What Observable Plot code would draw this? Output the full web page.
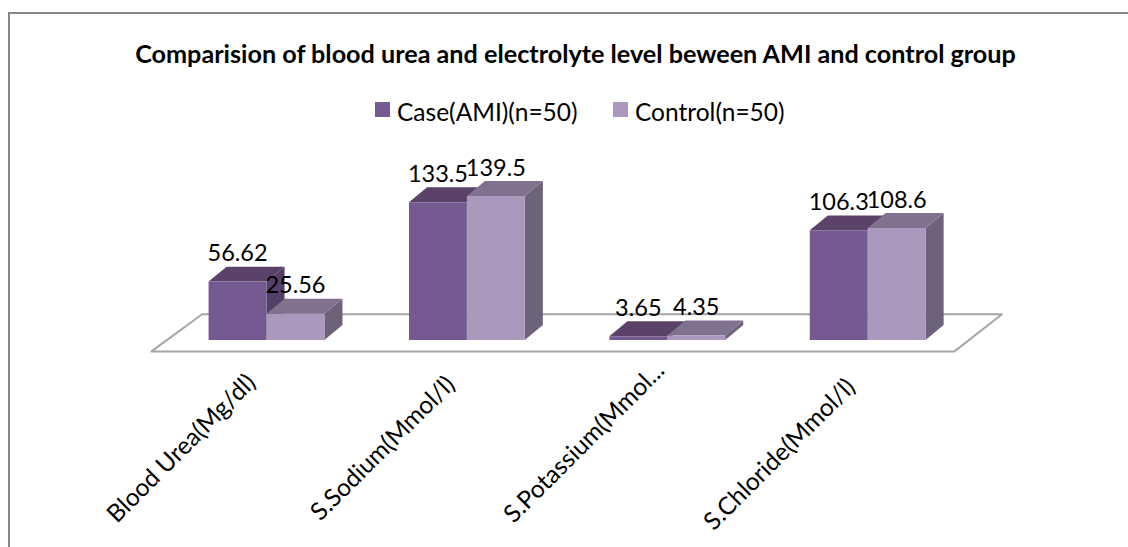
<!DOCTYPE html>
<html>
<head>
<meta charset="utf-8">
<script src="https://cdn.jsdelivr.net/npm/d3@7"></script>
<script src="https://cdn.jsdelivr.net/npm/@observablehq/plot@0.6"></script>
<style>
html,body{margin:0;padding:0;background:#fff;}
#page{position:relative;width:1128px;height:547px;overflow:hidden;font-family:Lato,sans-serif;color:#000;}
#box{position:absolute;left:8px;top:12px;width:1200px;height:600px;border:2px solid #868686;box-sizing:border-box;}
#title{position:absolute;left:0;width:1151px;top:38px;text-align:center;font-weight:700;font-size:25.2px;line-height:30px;white-space:nowrap;}
#legend{position:absolute;left:0;top:96px;width:1128px;height:32px;font-size:24.5px;line-height:32px;}
#legend span{position:absolute;white-space:nowrap;}
#legend i{position:absolute;width:15px;height:15px;top:6px;}
#chart{position:absolute;left:0;top:0;}
svg{background:transparent;}
</style>
</head>
<body>
<div id="page">
<div id="box"></div>
<div id="chart"></div>
<div id="title"></div>
<div id="legend"></div>
</div>
<script>
const chartTitle = "Comparision of blood urea and electrolyte level beween AMI and control group";
const categories = ["Blood Urea(Mg/dl)", "S.Sodium(Mmol/l)", "S.Potassium(Mmol...", "S.Chloride(Mmol/l)"];
const seriesNames = ["Case(AMI)(n=50)", "Control(n=50)"];
const caseValues = [56.62, 133.5, 3.65, 106.3];
const controlValues = [25.56, 139.5, 4.35, 108.6];
const valueLabels = [["56.62","133.5","3.65","106.3"],["25.56","139.5","4.35","108.6"]];
const frontColors = ["#755a91", "#aa99bd"];
const topColors = ["#5a4269", "#80728e"];
const sideColors = ["#524068", "#6c637a"];
const tickShift = [[-85, -1], [-84, -1], [-83, -7], [-88, 5]];

const barW = 0.289, depthX = 0.09, depthY = 14.5;
const series = [caseValues, controlValues];

document.getElementById("title").textContent = chartTitle;
const legend = document.getElementById("legend");
[[375, 397], [613, 635]].forEach(([sw, tx], s) => {
  const i = document.createElement("i");
  i.style.left = sw + "px"; i.style.background = frontColors[s];
  const t = document.createElement("span");
  t.style.left = tx + "px"; t.textContent = seriesNames[s];
  legend.append(i, t);
});

const faces = [], labels = [];
categories.forEach((c, k) => {
  series.forEach((vals, s) => {
    const x0 = k + (s - 1) * barW, x1 = x0 + barW, v = vals[k];
    const poly = (id, color, pts) => pts.forEach(([x, y]) => faces.push({id, color, x, y}));
    poly(`${k}-${s}-side`, sideColors[s], [[x1, 0], [x1 + depthX, depthY], [x1 + depthX, v + depthY], [x1, v]]);
    poly(`${k}-${s}-top`, topColors[s], [[x0, v], [x0 + depthX, v + depthY], [x1 + depthX, v + depthY], [x1, v]]);
    poly(`${k}-${s}-front`, frontColors[s], [[x0, 0], [x1, 0], [x1, v], [x0, v]]);
    labels.push({x: (x0 + x1) / 2, y: v, text: valueLabels[s][k]});
  });
});

const floor = [[-0.574, -11], [3.433, -11], [3.67, 25], [-0.321, 25], [-0.574, -11]].map(([x, y]) => ({x, y}));

const plot = Plot.plot({
  width: 1128, height: 547,
  marginTop: 0, marginBottom: 0, marginLeft: 0, marginRight: 0,
  x: {axis: null, domain: [-266 / 200.4, 862 / 200.4], range: [0, 1128]},
  y: {axis: null, domain: [-201, 329], range: [547, 0]},
  style: {fontFamily: "Lato, sans-serif", background: "transparent"},
  marks: [
    Plot.line(floor, {x: "x", y: "y", stroke: "#a6a6a6", strokeWidth: 2, curve: "linear"}),
    Plot.line(faces, {x: "x", y: "y", z: "id", fill: "color", stroke: "none", curve: "linear"}),
    ...categories.map((c, k) => Plot.axisX([k], {
      anchor: "bottom", y: -106, tickSize: 0, tickPadding: 0, label: null,
      tickFormat: i => categories[i], tickRotate: -45,
      textAnchor: "middle", lineAnchor: "middle", fontSize: 24.5, fill: "#000",
      dx: tickShift[k][0], dy: tickShift[k][1]
    })),
    Plot.text(labels, {x: "x", y: "y", text: "text", fontSize: 23.5, fill: "#000", dy: -28})
  ]
});
document.getElementById("chart").append(plot);
</script>
</body>
</html>
